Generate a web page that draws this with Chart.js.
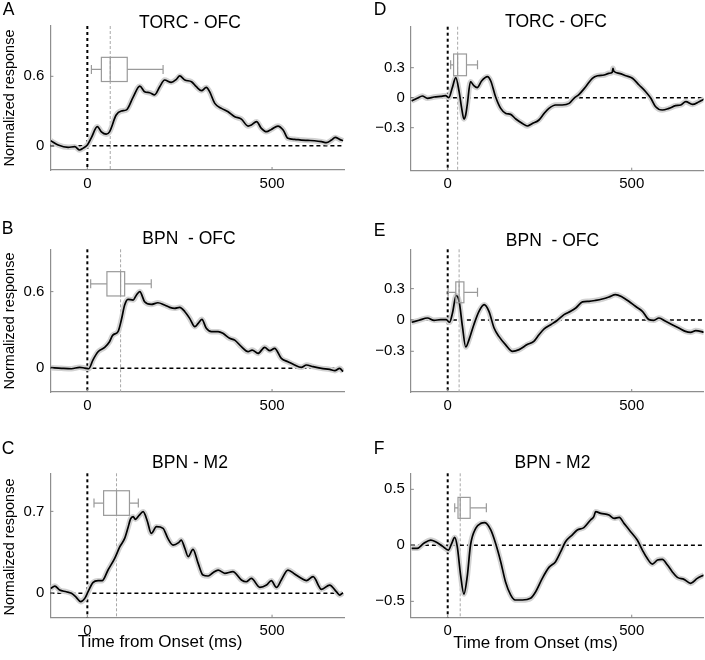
<!DOCTYPE html>
<html>
<head>
<meta charset="utf-8">
<title>Normalized response</title>
<script src="https://cdn.jsdelivr.net/npm/chart.js@4.4.1/dist/chart.umd.min.js"></script>
<style>
  body { margin: 0; background: #fff; }
  #fig { position: relative; width: 705px; height: 660px; overflow: hidden; font-family: "Liberation Sans", Arial, sans-serif; color: #000; }
  #fig canvas { position: absolute; }
  .lbl { position: absolute; white-space: pre; line-height: 1; transform: translate(-50%, -50%); }
  .ylab { transform: translate(-50%, -50%) rotate(-90deg); }
</style>
</head>
<body>
<div id="fig"></div>
<script>
// x ticks shared by all panels (ms)
const xTicks = [0, 500];

// A: TORC - OFC
const timeA = [-99,-79,-52,-34,-21,-12,0,11,27,38,51,60,78,92,106,124,142,155,169,182,196,209,227,241,250,264,282,295,309,322,331,345,363,381,399,417,435,444,458,471,485,498,516,530,543,561,579,597,615,634,647,661,671,683,692];
const respA = [0.043,0.006,-0.014,-0.008,-0.037,-0.023,0.006,0.07,0.165,0.12,0.10,0.12,0.265,0.30,0.31,0.42,0.515,0.467,0.458,0.44,0.51,0.568,0.548,0.574,0.603,0.568,0.553,0.51,0.476,0.504,0.467,0.366,0.323,0.294,0.251,0.23,0.17,0.179,0.208,0.15,0.121,0.141,0.17,0.136,0.064,0.055,0.049,0.046,0.043,0.035,0.026,0.049,0.072,0.055,0.043];
const yTicksA = [0, 0.6];
const boxA = [11, 38, 62, 108, 205];   // whisker lo, q1, median, q3, whisker hi (ms)

// B: BPN - OFC
const timeB = [-99,-70,-43,-21,-7,4,15,29,47,60,69,83,92,101,110,124,133,142,155,173,191,209,223,236,250,264,277,291,300,310,322,336,354,367,385,399,417,435,446,462,480,494,507,525,543,561,579,593,611,634,656,670,683,692];
const respB = [0.005,0,-0.003,0.008,0.002,-0.003,0.065,0.13,0.164,0.208,0.26,0.287,0.378,0.495,0.54,0.534,0.574,0.6,0.521,0.5,0.513,0.495,0.477,0.469,0.477,0.443,0.391,0.326,0.352,0.383,0.313,0.287,0.287,0.274,0.235,0.221,0.169,0.13,0.143,0.117,0.164,0.138,0.156,0.078,0.052,0.026,0.008,0.026,0.013,0,-0.008,-0.018,0,-0.026];
const yTicksB = [0, 0.6];
const boxB = [9, 53, 90, 101, 173];

// C: BPN - M2
const timeC = [-99,-88,-75,-57,-43,-30,-18,-7,2,15,29,40,56,74,88,101,110,117,124,130,140,151,162,173,187,205,218,232,247,254,264,273,286,300,313,327,340,354,372,394,417,430,444,467,485,498,512,525,543,561,579,593,611,634,656,674,683,692];
const respC = [0.042,0.062,0.028,0.014,0,-0.034,-0.071,-0.043,0.014,0.091,0.108,0.108,0.199,0.299,0.398,0.469,0.56,0.635,0.655,0.632,0.665,0.697,0.62,0.512,0.569,0.555,0.469,0.412,0.433,0.455,0.384,0.313,0.376,0.256,0.156,0.148,0.176,0.199,0.171,0.185,0.114,0.099,0.128,0.051,0.071,0.108,0.051,0.114,0.199,0.165,0.128,0.108,0.142,0.034,0.071,0.014,-0.015,0.005];
const yTicksC = [0, 0.7];
const boxC = [18, 44, 79, 114, 138];

// D: TORC - OFC (difference)
const timeD = [-98,-83,-69,-55,-37,-19,-6,3,12,22,31,38,44,49,53,62,71,80,92,108,117,130,144,158,171,185,203,216,230,248,262,275,293,311,330,343,357,375,393,407,425,438,447,449,451,466,484,502,520,538,552,565,583,601,619,633,647,665,683,697];
const respD = [-0.033,-0.006,0.017,-0.006,0.007,0.014,0.02,0,0.094,0.2,0.06,-0.107,-0.213,-0.17,-0.073,0.16,0.12,0.1,0.167,0.21,0.167,0.01,-0.107,-0.157,-0.167,-0.213,-0.257,-0.283,-0.257,-0.223,-0.157,-0.107,-0.073,-0.073,-0.057,-0.006,0.034,0.11,0.194,0.22,0.227,0.244,0.254,0.294,0.267,0.244,0.22,0.194,0.127,0.06,-0.006,-0.09,-0.123,-0.107,-0.08,-0.073,-0.04,-0.067,-0.04,-0.013];
const yTicksD = [-0.3, 0, 0.3];
const boxD = [8, 16, 27, 51, 81];

// E: BPN - OFC (difference)
const timeE = [-98,-78,-55,-37,-19,-4,5,13,23,31,40,49,58,71,85,99,112,126,139,157,176,194,216,234,248,262,280,298,316,334,348,366,384,402,420,438,456,474,492,510,529,547,560,574,592,610,628,646,660,674,697];
const respE = [-0.022,-0.003,0.019,-0.003,0.003,0.003,-0.022,0.067,0.233,0.179,-0.061,-0.259,-0.188,-0.045,0.083,0.147,0.083,-0.077,-0.157,-0.236,-0.3,-0.284,-0.236,-0.204,-0.141,-0.086,-0.045,-0.003,0.051,0.083,0.115,0.173,0.179,0.188,0.201,0.22,0.243,0.22,0.179,0.131,0.083,0.003,-0.003,0.019,-0.013,-0.045,-0.077,-0.109,-0.118,-0.102,-0.118];
const yTicksE = [-0.3, 0, 0.3];
const boxE = [1, 22, 31, 44, 81];

// F: BPN - M2 (difference)
const timeF = [-98,-83,-65,-46,-33,-15,2,11,19,26,35,44,53,62,76,90,101,117,130,144,157,171,183,203,225,239,257,275,293,307,320,338,352,370,388,397,402,416,438,452,466,479,497,515,529,542,556,570,583,597,610,624,642,660,678,696];
const respF = [-0.027,-0.027,0.018,0.047,0.032,-0.006,-0.042,0.018,0.071,-0.012,-0.265,-0.435,-0.28,0.003,0.152,0.196,0.202,0.137,0.018,-0.146,-0.325,-0.443,-0.488,-0.488,-0.473,-0.414,-0.295,-0.197,-0.146,-0.057,0.032,0.092,0.137,0.158,0.226,0.256,0.3,0.285,0.271,0.241,0.25,0.196,0.122,0.047,-0.042,-0.116,-0.167,-0.131,-0.125,-0.176,-0.235,-0.286,-0.304,-0.339,-0.295,-0.265];
const yTicksF = [-0.5, 0, 0.5];
const boxF = [19, 28, 34, 61, 105];

// panel layout (canvas rect, axis sizes, y range)
const panels = [
  { key: 'A', time: timeA, resp: respA, yTicks: yTicksA, box: boxA, boxY: [0.555, 0.764],
    yMin: -0.21, yMax: 1.035, left: 0, top: 0, w: 350, h: 200, axisW: 50.4, padTop: 26, padRight: 5.9, axisH: 30 },
  { key: 'B', time: timeB, resp: respB, yTicks: yTicksB, box: boxB, boxY: [0.566, 0.756],
    yMin: -0.185, yMax: 0.931, left: 0, top: 220, w: 350, h: 200, axisW: 50.4, padTop: 29.3, padRight: 5.9, axisH: 28 },
  { key: 'C', time: timeC, resp: respC, yTicks: yTicksC, box: boxC, boxY: [0.666, 0.876],
    yMin: -0.208, yMax: 1.025, left: 0, top: 440, w: 350, h: 200, axisW: 50.4, padTop: 33.3, padRight: 5.9, axisH: 22.3 },
  { key: 'D', time: timeD, resp: respD, yTicks: yTicksD, box: boxD, boxY: [0.22, 0.437],
    yMin: -0.73, yMax: 0.71, left: 360, top: 0, w: 345, h: 200, axisW: 50.9, padTop: 26.7, padRight: 1.5, axisH: 29.3 },
  { key: 'E', time: timeE, resp: respE, yTicks: yTicksE, box: boxE, boxY: [0.165, 0.365],
    yMin: -0.69, yMax: 0.677, left: 360, top: 220, w: 345, h: 200, axisW: 50.9, padTop: 29.3, padRight: 1.5, axisH: 28 },
  { key: 'F', time: timeF, resp: respF, yTicks: yTicksF, box: boxF, boxY: [0.241, 0.428],
    yMin: -0.646, yMax: 0.643, left: 360, top: 440, w: 345, h: 200, axisW: 50.9, padTop: 33.3, padRight: 1.5, axisH: 22.3 }
];

// text placed around the panels (centre points)
const texts = [
  { t: 'A', x: 8.5, y: 9.5, s: 17.5 }, { t: 'B', x: 7.5, y: 229, s: 17.5 }, { t: 'C', x: 8, y: 449, s: 17.5 },
  { t: 'D', x: 380, y: 9.5, s: 17.5 }, { t: 'E', x: 379.5, y: 230.5, s: 17.5 }, { t: 'F', x: 379, y: 449, s: 17.5 },
  { t: 'TORC - OFC', x: 190, y: 23, s: 17.5 }, { t: 'BPN  - OFC', x: 189, y: 239, s: 17.5 }, { t: 'BPN - M2', x: 190, y: 462.5, s: 17.5 },
  { t: 'TORC - OFC', x: 556, y: 22, s: 17.5 }, { t: 'BPN  - OFC', x: 552.5, y: 241, s: 17.5 }, { t: 'BPN - M2', x: 552.5, y: 462.5, s: 17.5 },
  { t: 'Time from Onset (ms)', x: 160, y: 641, s: 17 }, { t: 'Time from Onset (ms)', x: 535.5, y: 642, s: 17 },
  { t: 'Normalized response', x: 9, y: 98, s: 14.5, rot: true },
  { t: 'Normalized response', x: 9, y: 320.5, s: 14.5, rot: true },
  { t: 'Normalized response', x: 9, y: 547, s: 14.5, rot: true }
];

const fig = document.getElementById('fig');

function fmtTick(v) {
  if (v === 0) return '0';
  return (v < 0 ? '\u2212' : '') + Math.abs(v);
}

function decor(p) {
  return {
    id: 'decor' + p.key,
    beforeDatasetsDraw(chart) {
      const { ctx, chartArea: a, scales: { x, y } } = chart;
      ctx.save();
      // median latency line
      const xm = x.getPixelForValue(p.box[2]);
      ctx.strokeStyle = '#a8a8a8';
      ctx.lineWidth = 1;
      ctx.setLineDash([3, 2]);
      ctx.beginPath(); ctx.moveTo(xm, a.top); ctx.lineTo(xm, a.bottom); ctx.stroke();
      // zero lines
      ctx.strokeStyle = '#000';
      const y0 = y.getPixelForValue(0);
      ctx.lineWidth = 1.5;
      ctx.setLineDash([4, 3]);
      ctx.beginPath(); ctx.moveTo(a.left, y0); ctx.lineTo(a.right, y0); ctx.stroke();
      const x0 = x.getPixelForValue(0);
      ctx.lineWidth = 2;
      ctx.setLineDash([3, 3]);
      ctx.beginPath(); ctx.moveTo(x0, a.top); ctx.lineTo(x0, a.bottom); ctx.stroke();
      ctx.restore();
    },
    afterDatasetsDraw(chart) {
      const { ctx, chartArea: a, scales: { x, y } } = chart;
      const [lo, q1, med, q3, hi] = p.box.map(v => x.getPixelForValue(v));
      const yb = y.getPixelForValue(p.boxY[0]);
      const yt = y.getPixelForValue(p.boxY[1]);
      const yc = (yb + yt) / 2;
      ctx.save();
      ctx.strokeStyle = '#9a9a9a';
      ctx.lineWidth = 1.2;
      ctx.setLineDash([]);
      ctx.strokeRect(q1, yt, q3 - q1, yb - yt);
      ctx.beginPath();
      ctx.moveTo(med, yt); ctx.lineTo(med, yb);
      ctx.moveTo(lo, yc); ctx.lineTo(q1, yc);
      ctx.moveTo(q3, yc); ctx.lineTo(hi, yc);
      ctx.moveTo(lo, yc - 4.5); ctx.lineTo(lo, yc + 4.5);
      ctx.moveTo(hi, yc - 4.5); ctx.lineTo(hi, yc + 4.5);
      ctx.stroke();
      // inward tick marks
      ctx.strokeStyle = '#888';
      ctx.lineWidth = 1;
      ctx.beginPath();
      p.yTicks.forEach(v => { const py = y.getPixelForValue(v); ctx.moveTo(a.left, py); ctx.lineTo(a.left + 3, py); });
      xTicks.forEach(v => { const px = x.getPixelForValue(v); ctx.moveTo(px, a.bottom); ctx.lineTo(px, a.bottom - 3); });
      ctx.stroke();
      ctx.restore();
    }
  };
}

panels.forEach(p => {
  const canvas = document.createElement('canvas');
  canvas.width = p.w;
  canvas.height = p.h;
  canvas.style.left = p.left + 'px';
  canvas.style.top = p.top + 'px';
  canvas.style.width = p.w + 'px';
  canvas.style.height = p.h + 'px';
  fig.appendChild(canvas);

  const pts = p.time.map((t, i) => ({ x: t, y: p.resp[i] }));

  new Chart(canvas.getContext('2d'), {
    type: 'line',
    data: {
      datasets: [
        { data: pts, borderColor: '#000', borderWidth: 1.7, pointRadius: 0, cubicInterpolationMode: 'monotone', order: 0 },
        { data: pts, borderColor: '#d2d2d2', borderWidth: 5.5, pointRadius: 0, cubicInterpolationMode: 'monotone', order: 1 }
      ]
    },
    options: {
      responsive: false,
      animation: false,
      devicePixelRatio: 1,
      layout: { padding: { top: p.padTop, right: p.padRight, left: 0, bottom: 0 } },
      plugins: { legend: { display: false }, tooltip: { enabled: false }, title: { display: false } },
      scales: {
        x: {
          type: 'linear',
          min: -100,
          max: 695,
          afterBuildTicks: s => { s.ticks = xTicks.map(v => ({ value: v })); },
          afterFit: s => { s.height = p.axisH; },
          grid: { drawOnChartArea: false, drawTicks: false },
          border: { display: true, color: '#8e8e8e', width: 1.2 },
          ticks: { padding: 4.5, color: '#000', maxRotation: 0, font: { family: 'Liberation Sans', size: 15 }, callback: fmtTick }
        },
        y: {
          type: 'linear',
          min: p.yMin,
          max: p.yMax,
          afterBuildTicks: s => { s.ticks = p.yTicks.map(v => ({ value: v })); },
          afterFit: s => { s.width = p.axisW; },
          grid: { drawOnChartArea: false, drawTicks: false },
          border: { display: true, color: '#8e8e8e', width: 1.2 },
          ticks: { padding: 6, color: '#000', font: { family: 'Liberation Sans', size: 15 }, callback: fmtTick }
        }
      }
    },
    plugins: [decor(p)]
  });
});

texts.forEach(d => {
  const el = document.createElement('div');
  el.className = 'lbl' + (d.rot ? ' ylab' : '');
  el.textContent = d.t;
  el.style.left = d.x + 'px';
  el.style.top = d.y + 'px';
  el.style.fontSize = d.s + 'px';
  fig.appendChild(el);
});
</script>
</body>
</html>
